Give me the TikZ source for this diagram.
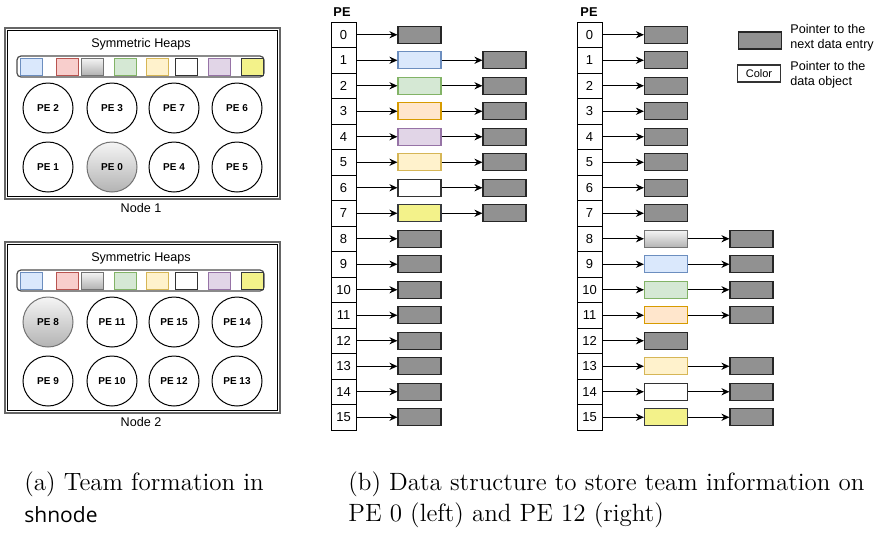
\documentclass[tikz,border=0pt]{standalone}
\usepackage{fontspec}
\newfontfamily\dio{Liberation Sans}
\newfontfamily\capsf{Open Sans}
\usetikzlibrary{arrows.meta,positioning}
\definecolor{blueF}{HTML}{DAE8FC}\definecolor{blueD}{HTML}{6C8EBF}
\definecolor{redF}{HTML}{F8CECC}\definecolor{redD}{HTML}{B85450}
\definecolor{greenF}{HTML}{D5E8D4}\definecolor{greenD}{HTML}{82B366}
\definecolor{yelF}{HTML}{FFF2CC}\definecolor{yelD}{HTML}{D6B656}
\definecolor{purF}{HTML}{E1D5E7}\definecolor{purD}{HTML}{9673A6}
\definecolor{orF}{HTML}{FFE6CC}\definecolor{orD}{HTML}{D79B00}
\definecolor{lemF}{HTML}{F3F28A}\definecolor{lemD}{HTML}{36393D}
\definecolor{gradT}{HTML}{F5F5F5}\definecolor{gradB}{HTML}{B3B3B3}
\definecolor{nextgray}{HTML}{919191}
\tikzset{
  cblue/.style={fill=blueF,draw=blueD},
  cred/.style={fill=redF,draw=redD},
  cgreen/.style={fill=greenF,draw=greenD},
  cyellow/.style={fill=yelF,draw=yelD},
  cpurple/.style={fill=purF,draw=purD},
  corange/.style={fill=orF,draw=orD},
  clemon/.style={fill=lemF,draw=lemD},
  cwhite/.style={fill=white,draw=black!80},
  cgrad/.style={top color=gradT,bottom color=gradB,draw=black!55},
  heapbox/.style={minimum width=11pt,minimum height=8.5pt,inner sep=0pt,line width=0.5pt},
  pe/.style={circle,draw,minimum size=25pt,inner sep=0pt,line width=0.5pt,
    font=\dio\bfseries\fontsize{5}{6}\selectfont},
  cell/.style={draw,minimum width=12.5pt,minimum height=12.75pt,inner sep=0pt,line width=0.5pt,
    font=\dio\fontsize{6.5}{7}\selectfont},
  entry/.style={draw,minimum width=21.5pt,minimum height=8.5pt,inner sep=0pt,line width=0.6pt},
  nxt/.style={entry,fill=nextgray,draw=black!85},
  ptr/.style={-{Stealth[length=4pt,width=3.6pt]},line width=0.5pt},
  lbl/.style={font=\dio\fontsize{6.3}{7.5}\selectfont,inner sep=0pt},
  keytxt/.style={lbl,anchor=west,align=left,font=\dio\fontsize{6.3}{7.6}\selectfont},
  captxt/.style={anchor=west,inner sep=0pt,font=\fontsize{12.5}{15}\selectfont},
}
\begin{document}
\begin{tikzpicture}[x=0.5pt,y=-0.5pt]
\useasboundingbox (0,0) rectangle (878,532);
% (a) the two nodes with their heaps
\foreach \o/\n in {0/1,214/2} {
  \draw[black!60,line width=1pt] (5,{28+\o}) rectangle (280,{199+\o});
  \draw[black,line width=0.4pt] (7.5,{30.5+\o}) rectangle (277.5,{196.5+\o});
  \node[lbl] (heap\n) at (141,{44+\o}) {Symmetric Heaps};
  \draw[black!70,line width=0.6pt,rounded corners=2pt] (17,{56+\o}) rectangle (264,{77+\o});
  \foreach \x/\c [count=\k] in {31/cblue,67/cred,92/cgrad,125/cgreen,157/cyellow,186/cwhite,219/cpurple,252/clemon}
    \node[heapbox,\c] (h\n\k) at (\x,{66.5+\o}) {};
  \node[lbl] (node\n) at (141,{208+\o}) {Node \n};
}
\node[pe] (pe2) at (48,108) {PE 2};
\node[pe] (pe3) at (112,108) {PE 3};
\node[pe] (pe7) at (174,108) {PE 7};
\node[pe] (pe6) at (237,108) {PE 6};
\node[pe] (pe1) at (48,167) {PE 1};
\node[pe,cgrad] (pe0) at (112,167) {PE 0};
\node[pe] (pe4) at (174,167) {PE 4};
\node[pe] (pe5) at (237,167) {PE 5};
\node[pe,cgrad] (pe8) at (48,322) {PE 8};
\node[pe] (pe11) at (112,322) {PE 11};
\node[pe] (pe15) at (174,322) {PE 15};
\node[pe] (pe14) at (237,322) {PE 14};
\node[pe] (pe9) at (48,381) {PE 9};
\node[pe] (pe10) at (112,381) {PE 10};
\node[pe] (pe12) at (174,381) {PE 12};
\node[pe] (pe13) at (237,381) {PE 13};
% (b) left: PE 0
\node[lbl,font=\dio\bfseries\fontsize{6.4}{7}\selectfont] (hdl) at (342,12) {PE};
\foreach \i in {0,...,15}
  \node[cell] (l\i) at (343.5,{34.75+25.5*\i}) {\i};
\foreach \i/\c in {0/nxt,1/cblue,2/cgreen,3/corange,4/cpurple,5/cyellow,6/cwhite,7/clemon,
    8/nxt,9/nxt,10/nxt,11/nxt,12/nxt,13/nxt,14/nxt,15/nxt} {
  \node[entry,\c] (le\i) at (419.5,{34.75+25.5*\i}) {};
  \draw[ptr] (l\i) -- (le\i);
}
\foreach \i in {1,...,7} {
  \node[nxt] (ln\i) at (504.5,{34.75+25.5*\i}) {};
  \draw[ptr] (le\i) -- (ln\i);
}
% (b) right: PE 12
\node[lbl,font=\dio\bfseries\fontsize{6.4}{7}\selectfont] (hdr) at (589,12) {PE};
\foreach \i in {0,...,15}
  \node[cell] (r\i) at (589.5,{34.75+25.5*\i}) {\i};
\foreach \i/\c in {0/nxt,1/nxt,2/nxt,3/nxt,4/nxt,5/nxt,6/nxt,7/nxt,
    8/cgrad,9/cblue,10/cgreen,11/corange,12/nxt,13/cyellow,14/cwhite,15/clemon} {
  \node[entry,\c] (re\i) at (666,{34.75+25.5*\i}) {};
  \draw[ptr] (r\i) -- (re\i);
}
\foreach \i in {8,9,10,11,13,14,15} {
  \node[nxt] (rn\i) at (751.5,{34.75+25.5*\i}) {};
  \draw[ptr] (re\i) -- (rn\i);
}
% legend
\node[nxt] (keynext) at (760,40.5) {};
\node[keytxt] (keynexttxt) at (790,38) {Pointer to the\\next data entry};
\node[entry,cwhite,font=\dio\fontsize{5.5}{6}\selectfont] (keycolor) at (759,73.5) {Color};
\node[keytxt] (keycolortxt) at (790,75) {Pointer to the\\data object};
% captions
\node[captxt] (capa1) at (24,484) {(a) Team formation in};
\node[captxt,font=\capsf\fontsize{10.5}{13}\selectfont] (capa2) at (24,515) {shnode};
\node[captxt] (capb1) at (348,484) {(b) Data structure to store team information on};
\node[captxt] (capb2) at (348,515) {PE 0 (left) and PE 12 (right)};
\end{tikzpicture}
\end{document}
